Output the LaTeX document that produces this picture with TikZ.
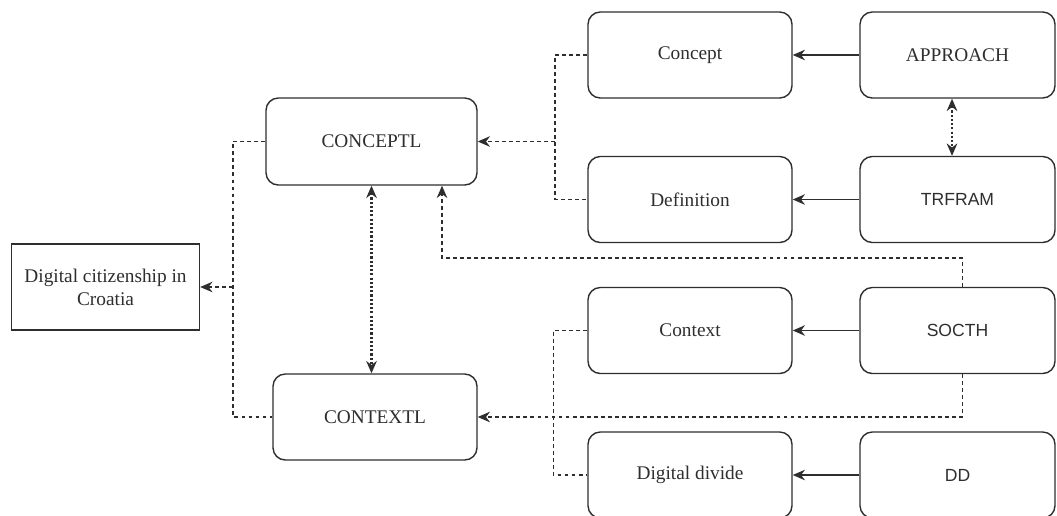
\documentclass[tikz,border=0pt]{standalone}
\usepackage{fontspec}
\setmainfont{Liberation Serif}
\newfontfamily\boxsans{Liberation Sans}
\usetikzlibrary{arrows.meta}
\definecolor{inkgray}{HTML}{2E2E2E}
\begin{document}
\begin{tikzpicture}[
	>={Stealth[length=7pt,width=6pt]},
	box/.style={draw=inkgray, line width=0.8pt, rounded corners=7pt, minimum width=4.08cm, minimum height=1.72cm, inner sep=2pt, text=inkgray, font=\fontsize{11}{13}\selectfont},
	sbox/.style={box, font=\boxsans\fontsize{10}{12}\selectfont},
	link/.style={inkgray, line width=0.9pt, dash pattern=on 2.2pt off 1.8pt},
	both/.style={inkgray, line width=1.3pt, dash pattern=on 1.2pt off 1.2pt, <->},
	feed/.style={inkgray, line width=0.9pt, ->}
]
	\useasboundingbox (0, 0) rectangle (21.14, -10.3);

	\node [box, rounded corners=0pt, minimum width=3.76cm, align=center] at (2.11, -5.74) (dc) {Digital citizenship in\\Croatia};
	\node [box, minimum width=4.22cm, minimum height=1.74cm] at (7.43, -2.83) (conceptl) {CONCEPTL};
	\node [box] at (7.5, -8.34) (contextl) {CONTEXTL};

	\node [box] at (13.8, -1.1) (concept) {Concept};
	\node [box] at (13.8, -3.99) (definition) {Definition};
	\node [box] at (13.8, -6.61) (context) {Context};
	\node [box] at (13.8, -9.5) (ddivide) {Digital divide};

	\node [box, minimum width=3.9cm] at (19.15, -1.1) (approach) {APPROACH};
	\node [sbox, minimum width=3.9cm] at (19.15, -3.99) (trfram) {TRFRAM};
	\node [sbox, minimum width=3.9cm] at (19.15, -6.61) (socth) {SOCTH};
	\node [sbox, minimum width=3.9cm] at (19.15, -9.5) (dd) {DD};

	\coordinate (j1) at (11.1, -2.83);
	\coordinate (j2) at (4.66, -5.74);
	\coordinate (j3) at (8.84, -5.16);

	% solid feeds from the right column
	\draw [feed] (approach) -- (concept);
	\draw [feed] (trfram) -- (definition);
	\draw [feed] (socth) -- (context);
	\draw [feed] (dd) -- (ddivide);

	\draw [both] ([xshift=-0.11cm]approach.south) -- ([xshift=-0.11cm]trfram.north);
	\draw [both] (conceptl.south) -- (conceptl.south |- contextl.north);

	\draw [link] (concept.west) -| (j1) |- (definition.west);
	\draw [link, ->] (j1) -- (conceptl.east);
	\draw [link] (conceptl.west) -| (j2) |- (contextl.west);
	\draw [link, ->] (j2) -- (dc.east);
	\draw [link, ->] ([xshift=0.1cm]socth.north) |- (j3) -- (j3 |- conceptl.south);
	\draw [link, ->] ([xshift=0.1cm]socth.south) |- (contextl.east);
	\draw [link] (context.west) -- ++(-0.68, 0) |- (ddivide.west);
\end{tikzpicture}
\end{document}
